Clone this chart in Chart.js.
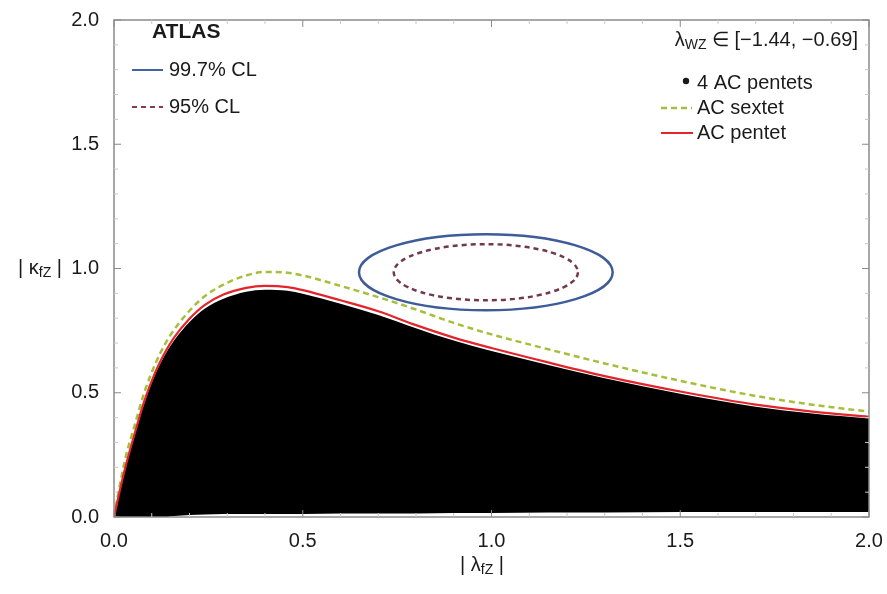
<!DOCTYPE html>
<html>
<head>
<meta charset="utf-8">
<script src="https://cdn.jsdelivr.net/npm/chart.js@4.4.1/dist/chart.umd.min.js"></script>
<style>
  html, body { margin: 0; padding: 0; background: #fff; }
  #wrap { width: 887px; height: 594px; }
</style>
</head>
<body>
<div id="wrap"><canvas id="grafico" width="887" height="594"></canvas></div>
<script>
// |lambda_fZ| sampling points shared by all curves
const lambdaPts = [0, 0.01, 0.03, 0.055, 0.08, 0.11, 0.135, 0.16, 0.2, 0.24, 0.29, 0.35, 0.4, 0.46, 0.5, 0.6, 0.7, 0.8, 0.9, 1.0, 1.15, 1.3, 1.5, 1.7, 1.85, 2.0];
// AC pentet boundary (red)
const pentetKappa = [0, 0.07, 0.20, 0.337, 0.465, 0.585, 0.662, 0.724, 0.798, 0.853, 0.895, 0.922, 0.930, 0.925, 0.913, 0.872, 0.828, 0.772, 0.722, 0.680, 0.622, 0.567, 0.505, 0.452, 0.424, 0.403];
// AC sextet boundary (green dashed)
const sextetKappa = [0, 0.085, 0.235, 0.37, 0.50, 0.618, 0.695, 0.755, 0.83, 0.888, 0.935, 0.972, 0.986, 0.983, 0.972, 0.930, 0.885, 0.835, 0.781, 0.735, 0.675, 0.618, 0.548, 0.487, 0.452, 0.424];
// envelope of the scanned "4 AC pentets" points
const cloudTop = [0, 0.065, 0.195, 0.33, 0.457, 0.577, 0.652, 0.712, 0.785, 0.838, 0.878, 0.906, 0.914, 0.91, 0.898, 0.858, 0.813, 0.76, 0.71, 0.668, 0.612, 0.558, 0.496, 0.444, 0.416, 0.396];
const cloudBottom = [0, 0, 0, 0, 0, 0, 0, 0.004, 0.008, 0.01, 0.012, 0.012, 0.012, 0.012, 0.012, 0.014, 0.014, 0.014, 0.016, 0.016, 0.018, 0.018, 0.02, 0.02, 0.02, 0.02];

const tickValues = [0, 0.5, 1.0, 1.5, 2.0];

// measured contour: centre and half-widths in (|lambda_fZ|, |kappa_fZ|)
const contourCenter = [0.985, 0.985];
const radius997 = [0.336, 0.153];
const radius95 = [0.244, 0.113];

const FONT = '"Liberation Sans", Arial, Helvetica, sans-serif';

function pts(ys) {
    return lambdaPts.map((x, i) => ({ x: x, y: ys[i] }));
}

// draws text made of normal and subscript pieces
function drawRich(ctx, parts, x, y, align) {
    let total = 0;
    parts.forEach(p => {
        ctx.font = p.sub ? `14px ${FONT}` : `20px ${FONT}`;
        total += ctx.measureText(p.t).width;
    });
    let cx = align === 'right' ? x - total : (align === 'center' ? x - total / 2 : x);
    parts.forEach(p => {
        ctx.font = p.sub ? `14px ${FONT}` : `20px ${FONT}`;
        ctx.fillText(p.t, cx, p.sub ? y + 5 : y);
        cx += ctx.measureText(p.t).width;
    });
}

const decor = {
    id: 'decor',
    afterDatasetsDraw(chart) {
        const { ctx, chartArea: a, scales: { x, y } } = chart;
        ctx.save();

        // confidence contours
        const cx = x.getPixelForValue(contourCenter[0]);
        const cy = y.getPixelForValue(contourCenter[1]);
        const ellipse = (r) => {
            const rx = x.getPixelForValue(contourCenter[0] + r[0]) - cx;
            const ry = cy - y.getPixelForValue(contourCenter[1] + r[1]);
            ctx.beginPath();
            ctx.ellipse(cx, cy, rx, ry, 0, 0, Math.PI * 2);
            ctx.stroke();
        };
        ctx.strokeStyle = '#3d5c98';
        ctx.lineWidth = 2.5;
        ellipse(radius997);
        ctx.strokeStyle = '#72384c';
        ctx.lineWidth = 2.5;
        ctx.setLineDash([5, 4]);
        ellipse(radius95);
        ctx.setLineDash([]);

        // frame
        ctx.strokeStyle = '#8a8a8a';
        ctx.lineWidth = 1.5;
        ctx.strokeRect(a.left, a.top, a.right - a.left, a.bottom - a.top);

        // inward ticks on every side
        for (let i = 0; i <= 20; i++) {
            const v = i / 10;
            const major = i % 5 === 0;
            const len = major ? 7 : 4;
            ctx.strokeStyle = major ? '#8a8a8a' : '#c8c8c8';
            ctx.lineWidth = 1;
            const px = x.getPixelForValue(v);
            const py = y.getPixelForValue(v);
            ctx.beginPath();
            ctx.moveTo(px, a.bottom); ctx.lineTo(px, a.bottom - len);
            ctx.moveTo(px, a.top); ctx.lineTo(px, a.top + len);
            ctx.moveTo(a.left, py); ctx.lineTo(a.left + len, py);
            ctx.moveTo(a.right, py); ctx.lineTo(a.right - len, py);
            ctx.stroke();
        }

        ctx.fillStyle = '#1a1a1a';
        ctx.textBaseline = 'middle';

        // axis titles
        drawRich(ctx, [{ t: '| κ' }, { t: 'fZ', sub: true }, { t: ' |' }], 40, 268, 'center');
        drawRich(ctx, [{ t: '| λ' }, { t: 'fZ', sub: true }, { t: ' |' }], 482, 565, 'center');

        // left legend
        ctx.font = `bold 21px ${FONT}`;
        ctx.textAlign = 'left';
        ctx.fillText('ATLAS', 152, 32);
        ctx.font = `20px ${FONT}`;
        ctx.fillText('99.7% CL', 169, 70);
        ctx.fillText('95% CL', 169, 107);
        ctx.lineWidth = 2;
        ctx.strokeStyle = '#4063a3';
        ctx.beginPath(); ctx.moveTo(132, 70); ctx.lineTo(163, 70); ctx.stroke();
        ctx.strokeStyle = '#8a3a4a';
        ctx.setLineDash([5, 4]);
        ctx.beginPath(); ctx.moveTo(132, 107); ctx.lineTo(163, 107); ctx.stroke();
        ctx.setLineDash([]);

        // right legend
        drawRich(ctx, [{ t: 'λ' }, { t: 'WZ', sub: true }, { t: ' ∈ [−1.44, −0.69]' }], 858, 40, 'right');
        ctx.font = `20px ${FONT}`;
        ctx.textAlign = 'left';
        ctx.beginPath(); ctx.arc(686, 81, 3.2, 0, Math.PI * 2); ctx.fill();
        ctx.fillText('4 AC pentets', 697, 83);
        ctx.fillText('AC sextet', 697, 108);
        ctx.fillText('AC pentet', 697, 133);
        ctx.lineWidth = 2.5;
        ctx.strokeStyle = '#a6bf3a';
        ctx.setLineDash([6, 4]);
        ctx.beginPath(); ctx.moveTo(661, 108); ctx.lineTo(692, 108); ctx.stroke();
        ctx.setLineDash([]);
        ctx.lineWidth = 2;
        ctx.strokeStyle = '#e3242b';
        ctx.beginPath(); ctx.moveTo(661, 133); ctx.lineTo(693, 133); ctx.stroke();

        ctx.restore();
    }
};

const tickFmt = v => tickValues.includes(v) ? v.toFixed(1) : '';

new Chart(document.getElementById('grafico'), {
    type: 'line',
    data: {
        datasets: [
            {
                label: '4 AC pentets',
                data: pts(cloudTop),
                borderWidth: 0,
                pointRadius: 0,
                backgroundColor: '#000',
                fill: '+1',
                cubicInterpolationMode: 'monotone',
                order: 3
            },
            {
                label: 'base',
                data: pts(cloudBottom),
                borderWidth: 0,
                pointRadius: 0,
                fill: false,
                cubicInterpolationMode: 'monotone',
                order: 4
            },
            {
                label: 'AC pentet',
                data: pts(pentetKappa),
                borderColor: '#e3242b',
                borderWidth: 2.2,
                pointRadius: 0,
                fill: false,
                cubicInterpolationMode: 'monotone',
                order: 0
            },
            {
                label: 'AC sextet',
                data: pts(sextetKappa),
                borderColor: '#a6bf3a',
                borderWidth: 2.5,
                borderDash: [6, 4],
                pointRadius: 0,
                fill: false,
                cubicInterpolationMode: 'monotone',
                order: 1
            }
        ]
    },
    options: {
        responsive: false,
        animation: false,
        devicePixelRatio: 1,
        layout: { padding: { top: 20, right: 18, left: 0, bottom: 0 } },
        plugins: {
            legend: { display: false },
            tooltip: { enabled: false }
        },
        scales: {
            x: {
                type: 'linear',
                min: 0,
                max: 2,
                grid: { display: false },
                border: { display: false },
                ticks: { stepSize: 0.5, padding: 4, color: '#1a1a1a', font: { size: 20, family: FONT }, callback: tickFmt, maxRotation: 0 },
                afterFit(scale) { scale.height = 77; }
            },
            y: {
                type: 'linear',
                min: 0,
                max: 2,
                grid: { display: false },
                border: { display: false },
                ticks: { stepSize: 0.5, padding: 7, color: '#1a1a1a', font: { size: 20, family: FONT }, callback: tickFmt },
                afterFit(scale) { scale.width = 114; }
            }
        }
    },
    plugins: [decor]
});
</script>
</body>
</html>
